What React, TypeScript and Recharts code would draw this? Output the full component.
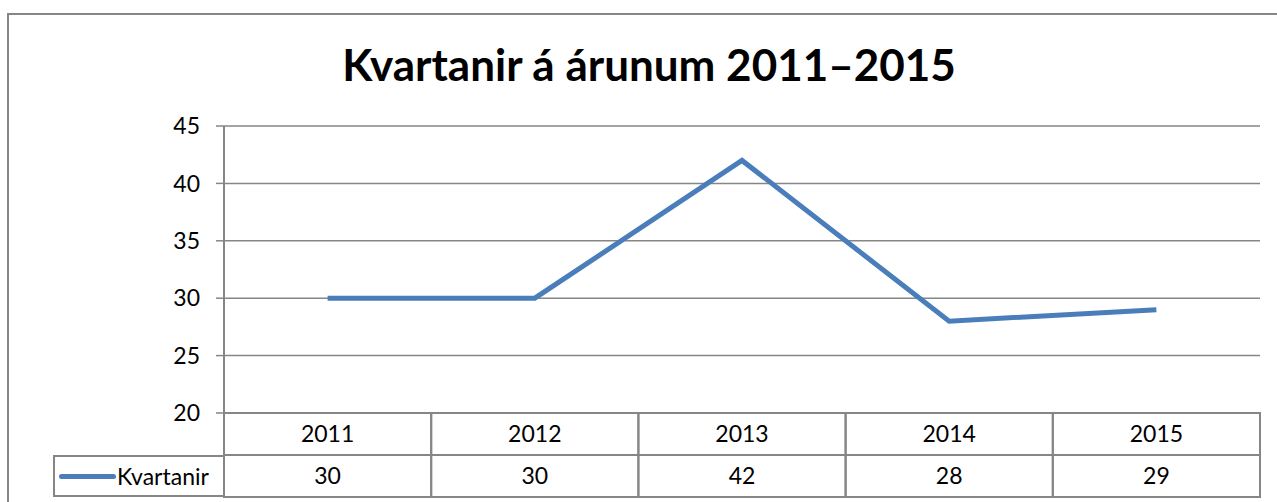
import { LineChart, Line, XAxis, YAxis, CartesianGrid } from "recharts"

const years = ["2011", "2012", "2013", "2014", "2015"]
const kvartanir = [30, 30, 42, 28, 29]
const yTicks = [20, 25, 30, 35, 40, 45]
const seriesName = "Kvartanir"
const title = "Kvartanir á árunum 2011–2015"

const data = years.map((year, i) => ({ year, value: kvartanir[i] }))

const W = 1277
const H = 502
const plotLeft = 224
const plotRight = 17
const plotTop = 126
const plotBottom = 89
const cellW = (W - plotLeft - plotRight) / years.length
const rowH = 42
const grid = "#868686"
const blue = "#4A7EBB"
const font = "Lato, 'Open Sans', sans-serif"

function TableTick({ x, y, payload, index }: any) {
  const top = y
  const left = x - cellW / 2
  return (
    <g>
      <rect x={left} y={top} width={cellW} height={rowH * 2} fill="none" stroke={grid} strokeWidth={2} />
      <line x1={left} x2={left + cellW} y1={top + rowH} y2={top + rowH} stroke={grid} strokeWidth={2} />
      <text x={x} y={top + rowH / 2 + 8} textAnchor="middle" fontSize={23} fill="#000" fontFamily={font}>
        {payload.value}
      </text>
      <text x={x} y={top + rowH * 1.5 + 8} textAnchor="middle" fontSize={23} fill="#000" fontFamily={font}>
        {kvartanir[index]}
      </text>
    </g>
  )
}

function LegendCell() {
  return (
    <div
      style={{
        position: "absolute",
        left: 53,
        top: 455,
        width: 172,
        height: rowH,
        boxSizing: "border-box",
        border: `2px solid ${grid}`,
        borderRight: "none",
        display: "flex",
        alignItems: "center",
        fontFamily: font,
        fontSize: 23,
        color: "#000",
      }}
    >
      <span style={{ display: "inline-block", width: 57, height: 5, background: blue, borderRadius: 3, marginLeft: 4 }} />
      <span style={{ marginLeft: 1 }}>{seriesName}</span>
    </div>
  )
}

export default function App() {
  return (
    <div style={{ position: "absolute", left: 0, top: 0, width: W, height: H, overflow: "hidden", background: "#fff" }}>
      <div
        style={{
          position: "absolute",
          left: 7,
          top: 13,
          width: W + 20,
          height: H + 20,
          border: `2px solid ${grid}`,
          boxSizing: "border-box",
        }}
      />
      <div
        style={{
          position: "absolute",
          left: 0,
          top: 38,
          width: 1298,
          textAlign: "center",
          fontFamily: font,
          fontWeight: 700,
          fontSize: 44,
          color: "#000",
        }}
      >
        {title}
      </div>
      <LineChart
        width={W}
        height={H}
        data={data}
        margin={{ top: plotTop, right: plotRight, bottom: 0, left: 0 }}
        style={{ position: "absolute", left: 0, top: 0 }}
      >
        <CartesianGrid vertical={false} stroke={grid} strokeWidth={1.5} />
        <XAxis
          dataKey="year"
          height={plotBottom}
          padding={{ left: cellW / 2, right: cellW / 2 }}
          axisLine={{ stroke: grid, strokeWidth: 2 }}
          tickLine={false}
          tickSize={0}
          tickMargin={0}
          interval={0}
          tick={<TableTick />}
        />
        <YAxis
          domain={[20, 45]}
          ticks={yTicks}
          width={plotLeft}
          axisLine={{ stroke: grid, strokeWidth: 2 }}
          tickLine={{ stroke: grid, strokeWidth: 1.5 }}
          tickSize={8}
          tickMargin={16}
          tick={{ fontSize: 23, fill: "#000", fontFamily: font }}
        />
        <Line
          type="linear"
          dataKey="value"
          name={seriesName}
          stroke={blue}
          strokeWidth={5}
          dot={false}
          activeDot={false}
          isAnimationActive={false}
        />
      </LineChart>
      <LegendCell />
    </div>
  )
}
